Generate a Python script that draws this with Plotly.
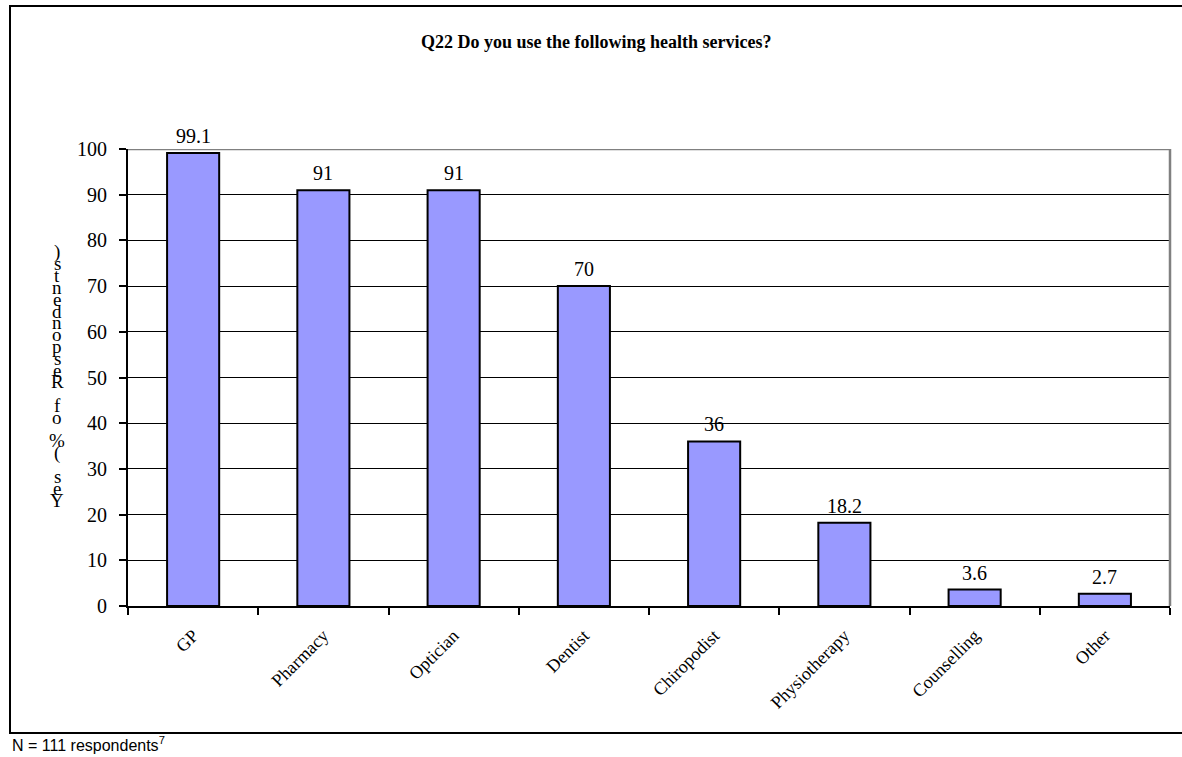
import plotly.graph_objects as go

categories = ["GP", "Pharmacy", "Optician", "Dentist", "Chiropodist", "Physiotherapy", "Counselling", "Other"]
values = [99.1, 91, 91, 70, 36, 18.2, 3.6, 2.7]
y_ticks = [0, 10, 20, 30, 40, 50, 60, 70, 80, 90, 100]
title_text = "Q22 Do you use the following health services?"
y_title = "Yes (% of Respondents)"
footnote = "N = 111 respondents<sup>7</sup>"

W, H = 1182, 757
L, R, T, B = 128, 12, 149, 151
pw, ph = W - L - R, H - T - B

def px_x(x):
    return (x - L) / pw

def px_y(y):
    return (H - B - y) / ph

serif = "Liberation Serif"

fig = go.Figure()
fig.add_trace(go.Bar(
    x=categories, y=values,
    marker=dict(color="#9999FF", line=dict(color="black", width=2)),
    width=0.4, hoverinfo="skip",
))

shapes = [
    dict(type="line", xref="paper", yref="y", x0=0, x1=1, y0=100, y1=100,
         line=dict(color="#808080", width=2.5)),
    dict(type="line", xref="paper", yref="paper", x0=1, x1=1, y0=0, y1=1,
         line=dict(color="#808080", width=2.5)),
    dict(type="rect", xref="paper", yref="paper",
         x0=px_x(10), x1=px_x(1200), y0=px_y(6), y1=px_y(733),
         line=dict(color="black", width=2), fillcolor="rgba(0,0,0,0)", layer="below"),
]

annotations = [
    dict(text="<b>" + title_text + "</b>", xref="paper", yref="paper",
         x=px_x(596), y=px_y(42), showarrow=False, xanchor="center", yanchor="middle",
         font=dict(family=serif, size=18, color="black")),
    dict(text=footnote, xref="paper", yref="paper", x=px_x(10), y=px_y(744),
         showarrow=False, xanchor="left", yanchor="middle",
         font=dict(family="Liberation Sans", size=16, color="black")),
]

# value labels above bars
for c, v in zip(categories, values):
    annotations.append(dict(text=f"{v:g}", x=c, y=v, xref="x", yref="y",
                            showarrow=False, xanchor="center", yanchor="bottom", yshift=4,
                            font=dict(family=serif, size=20, color="black")))

# stacked, reversed y-axis title characters (as rendered in the original)
chars = list(reversed(y_title))
top_px, bot_px = 252, 500
step = (bot_px - top_px) / (len(chars) - 1)
for i, ch in enumerate(chars):
    if ch == " ":
        continue
    annotations.append(dict(text=ch, xref="paper", yref="paper",
                            x=px_x(57), y=px_y(top_px + i * step), showarrow=False,
                            xanchor="center", yanchor="middle",
                            font=dict(family=serif, size=19, color="black")))

fig.update_layout(
    width=W, height=H,
    margin=dict(l=L, r=R, t=T, b=B, autoexpand=False),
    paper_bgcolor="white", plot_bgcolor="white",
    showlegend=False, bargap=0.6, hovermode=False,
    shapes=shapes, annotations=annotations,
    xaxis=dict(
        type="category", showline=True, linecolor="black", linewidth=2,
        ticks="outside", tickson="boundaries", ticklen=7, tickwidth=2, tickcolor="black",
        tickangle=-45, tickfont=dict(family=serif, size=18, color="black"),
        ticklabelstandoff=10,
        showgrid=False, zeroline=False,
    ),
    yaxis=dict(
        range=[0, 100], tickvals=y_ticks, showline=True, linecolor="black", linewidth=2,
        ticks="outside", ticklen=7, tickwidth=2, tickcolor="black",
        tickfont=dict(family=serif, size=20, color="black"),
        ticklabelstandoff=8,
        showgrid=True, gridcolor="black", gridwidth=1, zeroline=False,
    ),
)

fig.write_html("out.html", config={"displayModeBar": False, "staticPlot": True},
               post_script="document.body.style.margin='0';document.body.style.padding='0';")
